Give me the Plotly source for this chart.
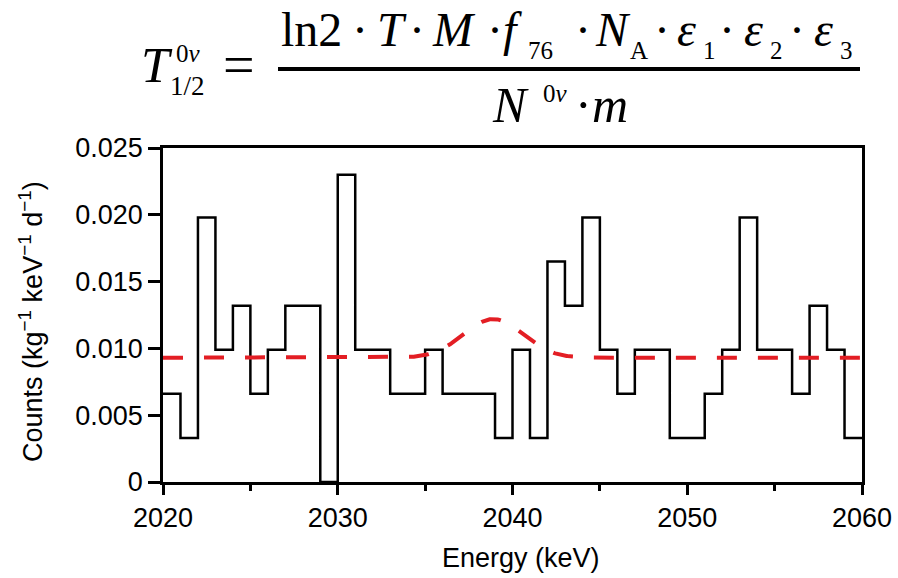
import numpy as np
import plotly.graph_objects as go

# Energy spectrum: 1 keV bins from 2020 to 2060 keV
bin_edges = list(range(2020, 2061))
rate = [
    0.0066, 0.0033, 0.0198, 0.0099, 0.0132, 0.0066, 0.0099, 0.0132, 0.0132, 0.0,
    0.0230, 0.0099, 0.0099, 0.0066, 0.0066, 0.0099, 0.0066, 0.0066, 0.0066, 0.0033,
    0.0099, 0.0033, 0.0165, 0.0132, 0.0198, 0.0099, 0.0066, 0.0099, 0.0099, 0.0033,
    0.0033, 0.0066, 0.0099, 0.0198, 0.0099, 0.0099, 0.0066, 0.0132, 0.0099, 0.0033,
]

# Fit model: flat background plus a Gaussian peak at Q_bb
fit_background = 0.0093
fit_amplitude = 0.0029
fit_centroid = 2038.9
fit_sigma = 1.7

x_ticks = [2020, 2030, 2040, 2050, 2060]
y_ticks = [0, 0.005, 0.010, 0.015, 0.020, 0.025]
y_tick_text = ["0", "0.005", "0.010", "0.015", "0.020", "0.025"]

step_x = bin_edges
step_y = rate + [rate[-1]]

e_model = np.linspace(bin_edges[0], bin_edges[-1], 801)
fit_curve = fit_background + fit_amplitude * np.exp(
    -0.5 * ((e_model - fit_centroid) / fit_sigma) ** 2
)

fig = go.Figure()
fig.add_trace(go.Scatter(
    x=step_x, y=step_y, mode="lines", line_shape="hv",
    line=dict(color="black", width=2.5), showlegend=False,
))
fig.add_trace(go.Scatter(
    x=e_model, y=fit_curve, mode="lines",
    line=dict(color="#E31E24", width=4, dash="20px,21px"), showlegend=False,
))

# plot area in pixels
L, R, T, B = 163, 862, 148, 482
W, H = 898, 578


def px(x):
    return (x - L) / (R - L)


def py(y):
    return (B - y) / (B - T)


sans = "Liberation Sans, Arial, sans-serif"
serif = "Liberation Serif, Times New Roman, serif"

fig.update_layout(
    template="none",
    width=W, height=H,
    margin=dict(l=L, r=W - R, t=T, b=H - B, pad=0, autoexpand=False),
    paper_bgcolor="white", plot_bgcolor="white",
    font=dict(family=sans, color="black", size=27),
    xaxis=dict(
        range=[2020, 2060], tickvals=x_ticks, ticks="outside", ticklen=10,
        tickwidth=2.5, tickcolor="black", showline=True, linecolor="black",
        linewidth=2.5, mirror=True, showgrid=False, zeroline=False,
        automargin=False, tickfont=dict(size=27, family=sans),
        minor=dict(dtick=5, ticks="outside", ticklen=6, tickwidth=2.5,
                   tickcolor="black", showgrid=False),
    ),
    yaxis=dict(
        range=[0, 0.025], tickvals=y_ticks, ticktext=y_tick_text,
        ticks="outside", ticklen=12, tickwidth=2.5, tickcolor="black",
        showline=True, linecolor="black", linewidth=2.5, mirror=True,
        showgrid=False, zeroline=False, automargin=False,
        tickfont=dict(size=27, family=sans),
    ),
)

ann = []


def label(text, x, y, size, family=serif, xanchor="left", yanchor="middle",
          textangle=0):
    ann.append(dict(
        text=text, x=px(x), y=py(y), xref="paper", yref="paper",
        xanchor=xanchor, yanchor=yanchor, showarrow=False,
        font=dict(family=family, size=size, color="black"),
        textangle=textangle, borderpad=0,
    ))


# axis titles
label("Energy (keV)", 521, 558, 27, family=sans, xanchor="center")
label("Counts (kg<sup>\u22121</sup> keV<sup>\u22121</sup> d<sup>\u22121</sup>)",
      31, 322, 27, family=sans, xanchor="center", textangle=-90)

# half-life formula: left-hand side
label("<i>T</i>", 140, 65, 51)
label("0<i>\u03bd</i>", 175, 54, 25)
label("1/2", 169, 86, 27)
label("=", 238.5, 65, 56, xanchor="center")

# numerator
num_size, sub_size = 48, 25
num_y, sub_y = 29, 50
label("ln2", 280, num_y, num_size)
label("\u00b7", 360, num_y, num_size, xanchor="center")
label("<i>T</i>", 376, num_y, num_size)
label("\u00b7", 417, num_y, num_size, xanchor="center")
label("<i>M</i>", 431, num_y, num_size)
label("\u00b7", 495, num_y, num_size, xanchor="center")
label("<i>f</i>", 502, num_y, num_size)
label("76", 527, sub_y, sub_size)
label("\u00b7", 583, num_y, num_size, xanchor="center")
label("<i>N</i>", 594, num_y, num_size)
label("A", 629, sub_y, sub_size)
label("\u00b7", 662, num_y, num_size, xanchor="center")
label("<i>\u03b5</i>", 676, num_y, num_size)
label("1", 702, sub_y, sub_size)
label("\u00b7", 727, num_y, num_size, xanchor="center")
label("<i>\u03b5</i>", 743, num_y, num_size)
label("2", 769, sub_y, sub_size)
label("\u00b7", 797, num_y, num_size, xanchor="center")
label("<i>\u03b5</i>", 813, num_y, num_size)
label("3", 839, sub_y, sub_size)

# denominator
den_size, den_y = 50, 105
label("<i>N</i>", 491, den_y, den_size)
label("0<i>\u03bd</i>", 542, 94, sub_size)
label("\u00b7", 583, den_y, den_size, xanchor="center")
label("<i>m</i>", 591, den_y, den_size)

fig.update_layout(annotations=ann)

# fraction bar
fig.add_shape(type="line", xref="paper", yref="paper",
              x0=px(278), x1=px(860), y0=py(69), y1=py(69),
              line=dict(color="black", width=4))

fig.write_html("out.html")
